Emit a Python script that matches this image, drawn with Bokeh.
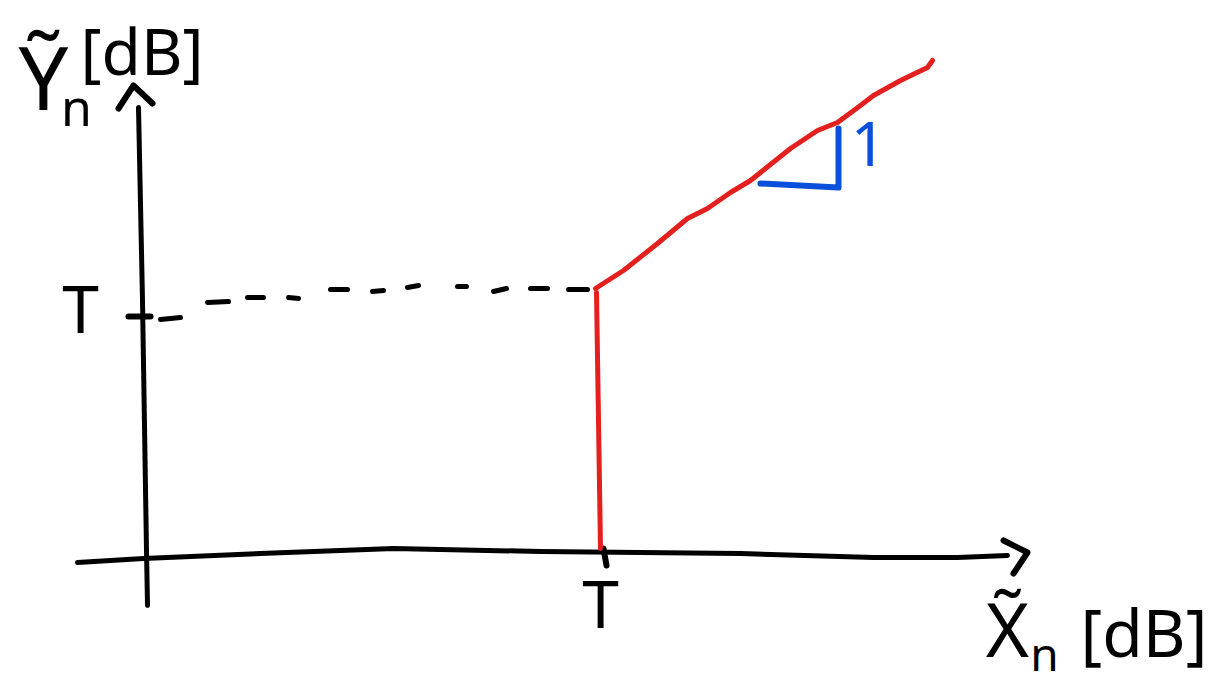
from bokeh.plotting import figure
from bokeh.models import Range1d
from bokeh.core.properties import value
from bokeh.embed import file_html
from bokeh.resources import INLINE

# ---- data (dB units, origin at the axes' crossing) ----
yaxis_x = [-0.9, -0.5, -0.1, 0.0]
yaxis_y = [44.3, 25.0, 0.0, -5.5]
yarrow_x = [-2.9, -1.4, 0.5]
yarrow_y = [44.2, 46.5, 44.7]

xaxis_x = [-7.0, -0.4, 11.3, 24.6, 39.3, 59.3, 72.6, 81.0, 86.0]
xaxis_y = [-1.2, -0.8, -0.3, 0.2, -0.1, -0.3, -0.7, -0.7, -0.5]
xarrow_x = [85.6, 88.0, 86.6]
xarrow_y = [1.0, -0.2, -2.3]

ytick_x = [-1.9, 0.3]
ytick_y = [23.4, 23.4]
xtick_x = [45.6, 45.9]
xtick_y = [0.2, -1.5]

# hand-drawn dashes of the guide line (start/end of each dash)
dash_x0 = [1.3, 6.0, 10.0, 14.1, 18.3, 22.5, 26.0, 31.0, 34.6, 38.3, 42.1]
dash_x1 = [3.3, 8.1, 11.6, 15.1, 20.0, 23.6, 27.1, 31.9, 35.9, 40.0, 44.0]
dash_y0 = [23.1, 24.8, 25.3, 25.3, 26.1, 25.9, 26.3, 26.4, 25.9, 26.2, 26.1]
dash_y1 = [23.3, 24.9, 25.3, 25.2, 26.1, 26.0, 26.5, 26.4, 26.2, 26.2, 26.1]

red_vert_x = [44.9, 45.1, 45.3]
red_vert_y = [25.8, 13.0, 0.2]
red_slope_x = [44.8, 47.6, 51.0, 54.0, 56.0, 58.3, 60.3, 64.3, 67.0, 69.0,
               71.3, 72.6, 75.3, 78.0, 78.5]
red_slope_y = [26.2, 28.0, 30.7, 33.2, 34.2, 35.8, 37.0, 40.2, 42.0, 42.8,
               44.5, 45.5, 47.0, 48.3, 49.0]

blue_x = [61.3, 69.1, 69.1]
blue_y = [36.7, 36.3, 42.2]
slope_label = ["1"]
slope_label_x = [72.1]
slope_label_y = [40.7]

tick_labels = ["T", "T"]
tick_label_x = [-6.7, 45.3]
tick_label_y = [24.4, -5.1]

y_main, y_sub, y_unit = "Ỹ", "n", "[dB]"
x_main, x_sub, x_unit = "X̃", "n", "[dB]"

W, H = 1219, 684
p = figure(width=W, height=H, output_backend="svg", toolbar_location=None,
           x_range=Range1d(-14.7, 107.2), y_range=Range1d(-13.4, 55.0),
           min_border=0)
p.axis.visible = False
p.grid.visible = False
p.outline_line_color = None

blk = "#000000"
red = "#e3201e"
blue = "#0a4fdc"

# axes
p.line(yaxis_x, yaxis_y, line_color=blk, line_width=5, line_cap="round", line_join="round")
p.line(yarrow_x, yarrow_y, line_color=blk, line_width=6, line_cap="round", line_join="round")
p.line(xaxis_x, xaxis_y, line_color=blk, line_width=5, line_cap="round", line_join="round")
p.line(xarrow_x, xarrow_y, line_color=blk, line_width=6, line_cap="round", line_join="round")
p.line(ytick_x, ytick_y, line_color=blk, line_width=6, line_cap="round")
p.line(xtick_x, xtick_y, line_color=blk, line_width=6, line_cap="round")

# dashed guide
p.multi_line([[a, b] for a, b in zip(dash_x0, dash_x1)],
             [[a, b] for a, b in zip(dash_y0, dash_y1)],
             line_color=blk, line_width=5, line_cap="round")

# curve
p.line(red_vert_x, red_vert_y, line_color=red, line_width=5, line_cap="round", line_join="round")
p.line(red_slope_x, red_slope_y, line_color=red, line_width=5, line_cap="round", line_join="round")

# slope triangle
p.line(blue_x, blue_y, line_color=blue, line_width=6, line_cap="round", line_join="round")
p.text(slope_label_x, slope_label_y, text=slope_label, text_color=blue,
       text_font=value("Noto Sans"), text_font_size="62px",
       text_align="center", text_baseline="middle")

# tick labels
p.text(tick_label_x, tick_label_y, text=tick_labels, text_color=blk,
       text_font=value("Noto Sans"), text_font_size="66px",
       text_align="center", text_baseline="middle")

# y label
p.text([-10.4], [47.5], text=[y_main], text_font=value("Noto Sans"), text_font_size="88px",
       text_align="center", text_baseline="middle", text_color=blk)
p.text([-7.1], [44.4], text=[y_sub], text_font=value("Noto Sans"), text_font_size="50px",
       text_align="center", text_baseline="middle", text_color=blk)
p.text([-6.7], [50.0], text=[y_unit], text_font=value("Noto Sans"), text_font_size="64px",
       text_align="left", text_baseline="middle", text_color=blk)

# x label
p.text([86.0], [-7.8], text=[x_main], text_font=value("Noto Sans"), text_font_size="74px",
       text_align="center", text_baseline="middle", text_color=blk)
p.text([89.7], [-10.2], text=[x_sub], text_font=value("Noto Sans"), text_font_size="46px",
       text_align="center", text_baseline="middle", text_color=blk)
p.text([93.3], [-8.0], text=[x_unit], text_font=value("Noto Sans"), text_font_size="66px",
       text_align="left", text_baseline="middle", text_color=blk)

open("out.html", "w").write(file_html(p, INLINE))
